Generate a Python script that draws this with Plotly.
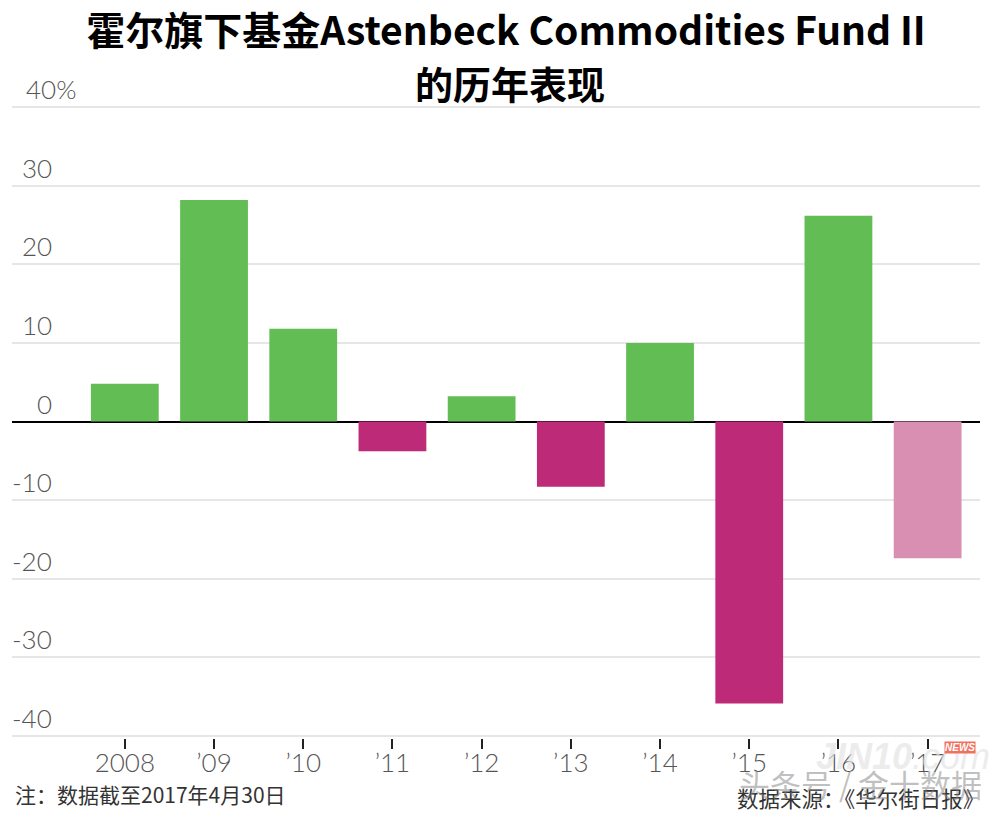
import plotly.graph_objects as go

years = ["2008", "’09", "’10", "’11", "’12", "’13", "’14", "’15", "’16", "’17"]
values = [4.8, 28.2, 11.8, -3.8, 3.2, -8.3, 10.0, -35.9, 26.2, -17.4]
colors = ["#63BD55", "#63BD55", "#63BD55", "#BD2B78", "#63BD55", "#BD2B78", "#63BD55", "#BD2B78", "#63BD55", "#D98FB2"]
y_ticks = [40, 30, 20, 10, 0, -10, -20, -30, -40]
y_labels = ["40%", "30", "20", "10", "0", "-10", "-20", "-30", "-40"]
title_1 = "霍尔旗下基金Astenbeck Commodities Fund II"
title_2 = "的历年表现"
note = "注：数据截至2017年4月30日"
source = "数据来源：《华尔街日报》"
W, H = 1000, 814
L, R, T, B = 12, 980, 105, 738
CJK = "Noto Sans CJK SC"
LABEL = dict(family="Lato Light, Lato", size=26, color="#555555")


def P(x, y, text, size, color, anchor="left", family=CJK, **kw):
    return dict(x=(x - L) / (R - L), y=(B - y) / (B - T), xref="paper", yref="paper", text=text, showarrow=False,
                xanchor=anchor, yanchor="middle", font=dict(family=family, size=size, color=color), **kw)


ann = []
for v, s in zip(y_ticks, y_labels):
    right = 78 if s == "40%" else 54
    ann.append(dict(x=(right - L) / (R - L), xref="paper", y=v, yref="y", text=s, showarrow=False,
                    xanchor="right", yanchor="bottom", yshift=0, font=LABEL))
ann += [
    P(510, 82, "<b>" + title_2 + "</b>", 38, "#000000", "center"),
    P(13, 794, note, 21, "#333333"),
    P(986, 797, source, 21.5, "#333333", "right"),
    P(737, 783, "头条号 / 金十数据", 31, "rgba(130,130,130,0.5)"),
    P(814, 757, "<b><i>JIN10</i></b><i>.com</i>", 36, "rgba(228,228,228,0.7)", family="Liberation Sans"),
    P(960, 747, "<i><b>NEWS</b></i>", 10, "#FFFFFF", "center", family="Liberation Sans", bgcolor="#F0705F", borderpad=0),
]

fig = go.Figure(go.Bar(x=years, y=values, marker=dict(color=colors, line_width=0), width=0.76))
fig.update_layout(
    width=W, height=H, showlegend=False, plot_bgcolor="white", paper_bgcolor="white",
    margin=dict(l=L, r=W - R, t=T, b=H - B),
    title=dict(text="<b>" + title_1 + "</b>", x=506 / W, xanchor="center", y=1 - 31 / H, yanchor="middle",
               font=dict(family=CJK + ", Open Sans", size=39, color="#000000")),
    xaxis=dict(type="category", categoryorder="array", categoryarray=years, range=[-1.265, 9.587],
               ticks="outside", ticklen=10, tickwidth=1.5, tickcolor="#222222", showgrid=False, showline=False,
               zeroline=False, tickfont=LABEL, ticklabelstandoff=-8),
    yaxis=dict(range=[-40.3, 40.3], tickvals=y_ticks, showticklabels=False, gridcolor="#E6E6E6", gridwidth=2,
               zeroline=True, zerolinecolor="#000000", zerolinewidth=1.5, ticks=""),
    annotations=ann,
    bargap=0.24,
)
fig.write_html("out.html", config={"displayModeBar": False}, post_script="document.body.style.margin='0';")
